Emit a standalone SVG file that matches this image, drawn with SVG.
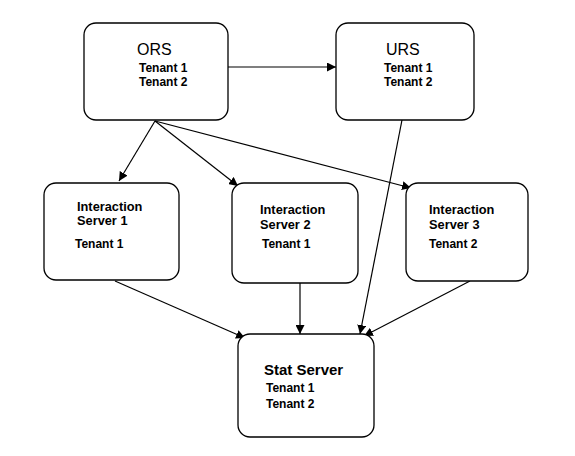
<svg xmlns="http://www.w3.org/2000/svg" width="575" height="456" viewBox="0 0 575 456">
<defs>
<marker id="ah" viewBox="0 0 10 10" refX="10" refY="5" markerWidth="9" markerHeight="9" markerUnits="userSpaceOnUse" orient="auto">
<path d="M0,0 L10,5 L0,10 z" fill="#000"/>
</marker>
<style>
.box{fill:#fff;stroke:#000;stroke-width:1.3}
.t{font-family:"Liberation Sans",Arial,sans-serif;fill:#000}
.h{font-size:16px}
.b{font-size:12px;font-weight:bold}
.i{font-size:12.8px;font-weight:bold}
.sb{font-size:15px;font-weight:bold}
.c{stroke:#000;stroke-width:1.2;fill:none;marker-end:url(#ah)}
</style>
</defs>
<rect width="575" height="456" fill="#fff"/>
<g id="connectors">
<line class="c" x1="228" y1="67" x2="336" y2="67"/>
<line class="c" x1="155" y1="121" x2="119" y2="181"/>
<line class="c" x1="155" y1="121" x2="238" y2="186"/>
<line class="c" x1="155" y1="121" x2="411" y2="188"/>
<line class="c" x1="402" y1="120" x2="360" y2="334"/>
<line class="c" x1="115" y1="281" x2="245" y2="338"/>
<line class="c" x1="300" y1="283" x2="300" y2="334"/>
<line class="c" x1="470" y1="281" x2="364" y2="336"/>
</g>
<g id="ors">
<rect class="box" x="84" y="23" width="144" height="97" rx="12"/>
<text class="t h" x="137" y="55">ORS</text>
<text class="t b" x="139" y="72">Tenant 1</text>
<text class="t b" x="139" y="86">Tenant 2</text>
</g>
<g id="urs">
<rect class="box" x="336" y="23" width="138" height="97" rx="12"/>
<text class="t h" x="386" y="55">URS</text>
<text class="t b" x="384" y="72">Tenant 1</text>
<text class="t b" x="384" y="86">Tenant 2</text>
</g>
<g id="is1">
<rect class="box" x="44" y="183" width="135" height="97" rx="12"/>
<text class="t i" x="77" y="211">Interaction</text>
<text class="t i" x="77" y="225">Server 1</text>
<text class="t b" x="75" y="248">Tenant 1</text>
</g>
<g id="is2">
<rect class="box" x="232" y="183" width="126" height="100" rx="12"/>
<text class="t i" x="260" y="214">Interaction</text>
<text class="t i" x="260" y="229">Server 2</text>
<text class="t b" x="262" y="248">Tenant 1</text>
</g>
<g id="is3">
<rect class="box" x="406" y="183" width="122" height="98" rx="12"/>
<text class="t i" x="429" y="214">Interaction</text>
<text class="t i" x="429" y="229">Server 3</text>
<text class="t b" x="429" y="248">Tenant 2</text>
</g>
<g id="stat">
<rect class="box" x="238" y="334" width="136" height="103" rx="12"/>
<text class="t sb" x="264" y="375">Stat Server</text>
<text class="t b" x="266" y="392">Tenant 1</text>
<text class="t b" x="266" y="408">Tenant 2</text>
</g>
</svg>
